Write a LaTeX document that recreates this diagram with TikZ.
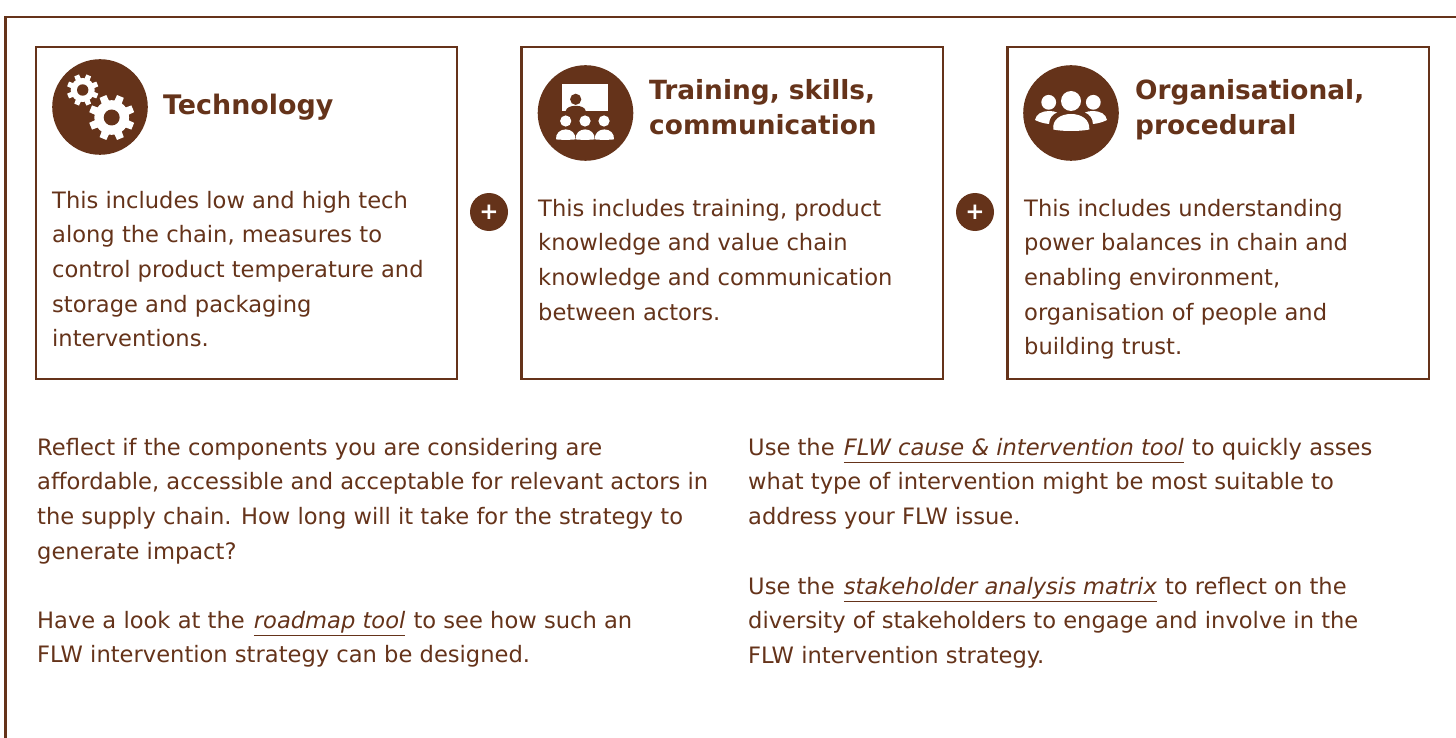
\documentclass[tikz,border=0pt]{standalone}
\usepackage{fontspec}
\setmainfont{DejaVu Sans}
\definecolor{brn}{HTML}{65331A}
\newcommand\fl{\rule{0pt}{20pt}}
\newcommand\lnk[1]{\kern2pt\setbox0\hbox{\itshape #1}\rlap{\raisebox{-7.5pt}{\textcolor{brn}{\rule{\wd0}{1.1pt}}}}\box0\ \kern1pt}
\newcommand\gearicon[4]{% x,y,outer,hole
  \fill[white] (#1,#2) circle ({#3*0.76});
  \foreach \a in {0,45,...,315}{
    \fill[white,shift={(#1,#2)},rotate=\a+22.5] (-#3*0.2,0) -- (-#3*0.16,#3) -- (#3*0.16,#3) -- (#3*0.2,0) -- cycle;
  }
  \fill[brn] (#1,#2) circle (#4);
}
\newcommand\bodyicon[3]{% x0,x1,ybottom,top
  \fill[white] (#1,#3) .. controls (#1-0.5,#3-6) and (#1+4,#3-10) .. ({(#1+#2)/2},#3-10)
     .. controls (#2-4,#3-10) and (#2+0.5,#3-6) .. (#2,#3)
     .. controls ({(#1+#2)/2+4},#3+0.6) and ({(#1+#2)/2-4},#3+0.6) .. (#1,#3) -- cycle;
}
\tikzset{
  x=1pt,y=-1pt,
  frame/.style={draw=brn,line width=2.8pt,fill=white},
  disc/.style={fill=brn},
  body/.style={text=brn,font=\fontsize{22.6}{34.65}\selectfont,align=left,anchor=north west,inner sep=0pt},
  head/.style={text=brn,font=\fontsize{26.4}{34.9}\selectfont\bfseries,align=left,anchor=north west,inner sep=0pt},
  pluslabel/.style={text=white,font=\fontsize{23}{23}\selectfont\bfseries,inner sep=0pt},
}
\begin{document}
\begin{tikzpicture}
\useasboundingbox (0,0) rectangle (1456,738);
\fill[white] (0,0) rectangle (1456,738);
\draw[draw=brn,line width=2.6pt] (5.5,738) -- (5.5,17) -- (1456,17);
% boxes
\draw[frame] (36,47) rectangle (457,379);
\draw[frame] (521.3,47) rectangle (943,379);
\draw[frame] (1007.3,47) rectangle (1429,379);
% discs
\fill[disc] (100,107) circle (47.8);
\fill[disc] (585.5,113) circle (47.8);
\fill[disc] (1071,113) circle (47.8);
% gears
\gearicon{82.7}{90}{15.8}{5.7}
\gearicon{111.7}{117.5}{22.8}{8}
% training icon
\fill[white] (562.3,83.7) rectangle (607.7,110.7);
\fill[brn] (575.7,99.3) circle (5.6);
\fill[brn] (565.7,110.9) .. controls (566.5,107.5) and (570.5,105.8) .. (575.7,105.8) .. controls (581,105.8) and (585,107.5) .. (585.7,110.9) -- cycle;
\fill[white] (565.7,121) circle (5.6);
\fill[white] (585,121) circle (5.6);
\fill[white] (604,121) circle (5.6);
\bodyicon{556}{575.4}{139.4}
\bodyicon{575.6}{594.6}{139.4}
\bodyicon{594.8}{614}{139.4}
% people icon
\fill[white] (1071,101) circle (10);
\fill[white] (1048.7,102.3) circle (7.4);
\fill[white] (1093.3,102.3) circle (7.4);
\fill[white] (1053.3,129.5) .. controls (1052,120) and (1060,114) .. (1071,114) .. controls (1082,114) and (1090,120) .. (1089.3,129.5) .. controls (1080,131.5) and (1062,131.5) .. (1053.3,129.5) -- cycle;
\fill[white] (1035,120) .. controls (1036,114) and (1042,111) .. (1049,111) .. controls (1052,111) and (1055,111.5) .. (1057,112.5) .. controls (1052,114.5) and (1049.5,118) .. (1049,124) .. controls (1044,123.5) and (1039,122) .. (1035,120) -- cycle;
\fill[white] (1107,120) .. controls (1106,114) and (1100,111) .. (1093,111) .. controls (1090,111) and (1087,111.5) .. (1085,112.5) .. controls (1090,114.5) and (1092.5,118) .. (1093,124) .. controls (1098,123.5) and (1103,122) .. (1107,120) -- cycle;
% plus signs
\fill[disc] (489,212) circle (19);
\fill[disc] (975,212) circle (19);
\node[pluslabel] (p1) at (489,212) {+};
\node[pluslabel] (p2) at (975,212) {+};
% headings
\node[head,font=\fontsize{26.9}{34.9}\selectfont\bfseries] (h1) at (163,94) {\fl Technology};
\node[head] (h2) at (649,79) {\fl Training, skills,\\communication};
\node[head] (h3) at (1135,79) {\fl Organisational,\\procedural};
% card text
\node[body] (t1) at (52,188) {\fl This includes low and high tech\\along the chain, measures to\\control product temperature and\\storage and packaging\\interventions.};
\node[body] (t2) at (538,196) {\fl This includes training, product\\knowledge and value chain\\knowledge and communication\\between actors.};
\node[body] (t3) at (1024,196) {\fl This includes understanding\\power balances in chain and\\enabling environment,\\organisation of people and\\building trust.};
% lower text
\node[body] (l1) at (37,435) {\fl Reflect if the components you are considering are\\affordable, accessible and acceptable for relevant actors in\\the supply chain. How long will it take for the strategy to\\generate impact?};
\node[body] (l2) at (37,608) {\fl Have a look at the \lnk{roadmap tool}to see how such an\\FLW intervention strategy can be designed.};
\node[body] (r1) at (748,435) {\fl Use the \lnk{FLW cause \& intervention tool}to quickly asses\\what type of intervention might be most suitable to\\address your FLW issue.};
\node[body] (r2) at (748,574) {\fl Use the \lnk{stakeholder analysis matrix}to reflect on the\\diversity of stakeholders to engage and involve in the\\FLW intervention strategy.};
\end{tikzpicture}
\end{document}
